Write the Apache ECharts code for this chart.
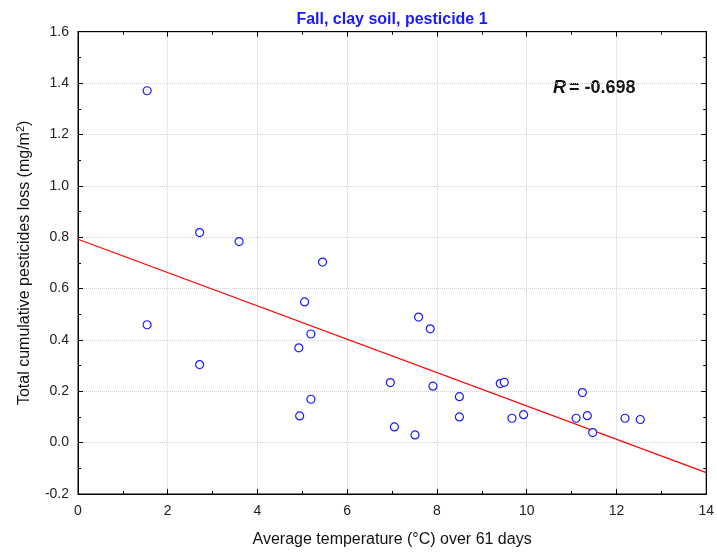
<!DOCTYPE html>
<html>
<head>
<meta charset="utf-8">
<script src="https://cdn.jsdelivr.net/npm/echarts@6/dist/echarts.min.js"></script>
<style>html,body{margin:0;padding:0;background:#fff}#c{width:717px;height:554px}</style>
</head>
<body>
<div id="c"></div>
<script>
const titleText = 'Fall, clay soil, pesticide 1';
const xName = 'Average temperature (°C) over 61 days';
const yNameMain = 'Total cumulative pesticides loss (mg/m';
const yNameSup = '2';
const rLabel = '-0.698';
const xTicks = [0, 2, 4, 6, 8, 10, 12, 14];
const yTicks = [-0.2, 0.0, 0.2, 0.4, 0.6, 0.8, 1.0, 1.2, 1.4, 1.6];
const temps = [1.54, 2.71, 3.59, 5.45, 1.54, 2.71, 5.05, 5.19, 4.92, 5.19, 4.94,
  7.59, 7.85, 6.96, 7.91, 8.50, 8.50, 7.05, 7.51, 9.41, 9.50, 9.67, 9.93,
  11.24, 11.10, 11.35, 11.47, 12.19, 12.53];
const losses = [1.37, 0.818, 0.783, 0.703, 0.459, 0.304, 0.548, 0.423, 0.369, 0.169, 0.104,
  0.489, 0.443, 0.234, 0.220, 0.179, 0.100, 0.061, 0.030, 0.230, 0.235, 0.095, 0.109,
  0.195, 0.095, 0.105, 0.039, 0.095, 0.090];
const fitX = [0, 14];
const fitY = [0.792, -0.117];

const chart = echarts.init(document.getElementById('c'), null, {renderer: 'canvas'});
const font = 'Liberation Sans, Arial, sans-serif';
const xMin = xTicks[0], xMax = xTicks[xTicks.length - 1];
const yMin = yTicks[0], yMax = yTicks[yTicks.length - 1];
const common = {
  axisLine: {show: true, onZero: false, lineStyle: {color: '#000', width: 1}},
  axisTick: {show: true, inside: true, length: 5, lineStyle: {color: '#000'}},
  minorTick: {show: true, splitNumber: 2, length: 3, lineStyle: {color: '#000'}},
};
const gridLine = {show: true, lineStyle: {color: '#cfcfcf', type: [1, 1], width: 1}};
chart.setOption({
  animation: false,
  backgroundColor: '#fff',
  title: {
    text: titleText, left: 387, top: 7, textAlign: 'center',
    textStyle: {color: '#1a1aff', fontSize: 16, fontWeight: 'bold', fontFamily: font}
  },
  grid: {left: 78, right: 10, top: 31.7, bottom: 60, show: true, borderColor: '#000', borderWidth: 1},
  xAxis: [
    Object.assign({}, common, {
      type: 'value', min: xMin, max: xMax, interval: 2, position: 'bottom',
      name: xName, nameLocation: 'middle', nameGap: 38,
      nameTextStyle: {fontSize: 16, color: '#111', fontFamily: font},
      axisLabel: {fontSize: 14, color: '#222', fontFamily: font, margin: 10},
      splitLine: gridLine
    }),
    Object.assign({}, common, {
      type: 'value', min: xMin, max: xMax, interval: 2, position: 'top',
      axisLabel: {show: false}, splitLine: {show: false}
    })
  ],
  yAxis: [
    Object.assign({}, common, {
      type: 'value', min: yMin, max: yMax, interval: 0.2, position: 'left',
      name: '{n|' + yNameMain + '}{s|' + yNameSup + '}{n|)}',
      nameLocation: 'middle', nameGap: 44, nameRotate: 90,
      nameTextStyle: {
        fontSize: 16, color: '#111', fontFamily: font,
        rich: {
          n: {fontSize: 16, color: '#111', fontFamily: font},
          s: {fontSize: 11, color: '#111', fontFamily: font, padding: [0, 0, 8, 0]}
        }
      },
      axisLabel: {fontSize: 14, color: '#222', fontFamily: font, margin: 9,
        formatter: v => v.toFixed(1)},
      splitLine: gridLine
    }),
    Object.assign({}, common, {
      type: 'value', min: yMin, max: yMax, interval: 0.2, position: 'right',
      axisLabel: {show: false}, splitLine: {show: false}
    })
  ],
  series: [
    {
      type: 'line', data: fitX.map((x, i) => [x, fitY[i]]), showSymbol: false, symbol: 'none',
      lineStyle: {color: '#ff0000', width: 1.2}, z: 3
    },
    {
      type: 'scatter', data: temps.map((x, i) => [x, losses[i]]),
      symbol: 'circle', symbolSize: 8,
      itemStyle: {color: '#fff', borderColor: '#1a1aff', borderWidth: 1.2, opacity: 1}, z: 4
    }
  ],
  graphic: [{
    type: 'text', left: 553, top: 79,
    style: {
      text: '{i|R}{b| = ' + rLabel + '}',
      rich: {
        i: {fontSize: 18, fontWeight: 'bold', fontStyle: 'italic', fontFamily: font, fill: '#111'},
        b: {fontSize: 18, fontWeight: 'bold', fontFamily: font, fill: '#111', padding: [0, 0, 0, -2]}
      }
    }
  }]
});
</script>
</body>
</html>
